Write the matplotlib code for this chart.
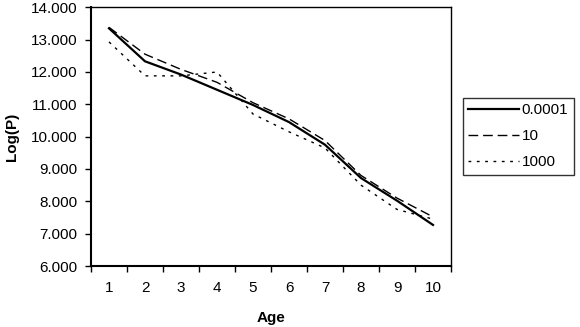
import matplotlib
matplotlib.use("Agg")
import matplotlib.pyplot as plt
import numpy as np

ages = ["1", "2", "3", "4", "5", "6", "7", "8", "9", "10"]
s_0001 = [13.35, 12.33, 11.92, 11.45, 10.98, 10.45, 9.75, 8.72, 8.02, 7.27]
s_10 = [13.38, 12.55, 12.08, 11.68, 11.05, 10.55, 9.88, 8.80, 8.10, 7.52]
s_1000 = [12.93, 11.88, 11.88, 12.00, 10.70, 10.15, 9.65, 8.50, 7.75, 7.45]
series_names = ["0.0001", "10", "1000"]
yticks = [6, 7, 8, 9, 10, 11, 12, 13, 14]

plt.rcParams['font.family'] = ['Liberation Sans', 'DejaVu Sans']
FS = 11

fig = plt.figure(figsize=(5.8, 3.27), dpi=100)
W, H = 580, 327
ax = fig.add_axes([91 / W, 1 - 266 / H, (451 - 91) / W, (266 - 7.3) / H])

x = np.arange(len(ages))
l1, = ax.plot(x, s_0001, color='black', lw=1.6, linestyle='-')
l2, = ax.plot(x, s_10, color='black', lw=1.0, linestyle=(0, (7, 3.5)))
l3, = ax.plot(x, s_1000, color='black', lw=1.0, linestyle=(0, (2, 4)))

ax.set_xlim(-0.5, len(ages) - 0.5)
ax.set_ylim(6, 14)
ax.set_yticks(yticks)
ax.set_yticklabels([f"{v:.3f}" for v in yticks], fontsize=FS)
ax.set_xticks(x)
ax.set_xticklabels(ages, fontsize=FS)
ax.set_xticks(np.arange(-0.5, len(ages), 1.0), minor=True)
ax.tick_params(axis='x', which='major', length=0, pad=11)
ax.tick_params(axis='x', which='minor', length=4, width=1, direction='out')
ax.tick_params(axis='y', which='major', length=4, width=1, direction='out', pad=6)
for sp in ax.spines.values():
    sp.set_linewidth(1.0)
ax.spines['left'].set_linewidth(1.5)
ax.spines['bottom'].set_linewidth(1.5)

ax.set_xlabel("Age", fontsize=FS, fontweight='bold', labelpad=11)
ax.set_ylabel("Log(P)", fontsize=FS, fontweight='bold', labelpad=8)

leg = fig.legend([l1, l2, l3], series_names, loc='upper left',
                 bbox_to_anchor=(463 / W, 1 - 97.7 / H), fontsize=FS,
                 frameon=True, fancybox=False, handlelength=3.3,
                 handletextpad=0.2, borderpad=0.35, labelspacing=0.8,
                 borderaxespad=0)
leg.get_frame().set_edgecolor('black')
leg.get_frame().set_linewidth(1.0)

fig.savefig("out.png", dpi=100)
